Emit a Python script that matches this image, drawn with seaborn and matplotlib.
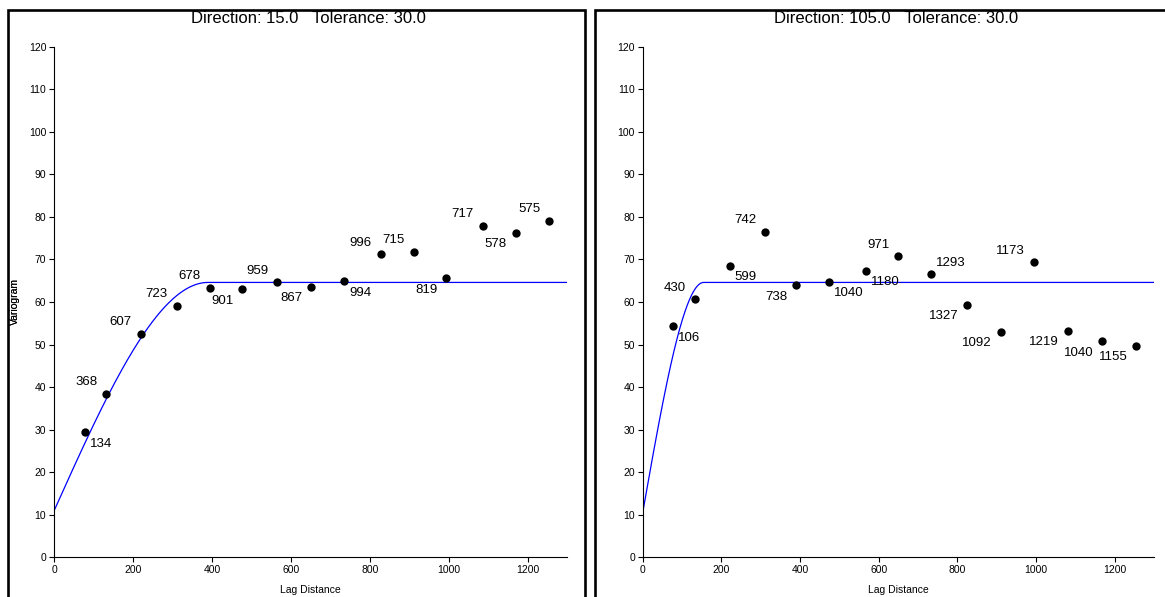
import numpy as np
import pandas as pd
import matplotlib
matplotlib.use("Agg")
import matplotlib.pyplot as plt
from matplotlib.patches import Rectangle
import seaborn as sns

# ---------------- data ----------------
lag_15 = [78, 132, 220, 311, 395, 477, 566, 651, 735, 827, 911, 994, 1086, 1170, 1254]
gamma_15 = [29.4, 38.4, 52.5, 59.1, 63.3, 63.0, 64.7, 63.6, 64.9, 71.2, 71.8, 65.6, 77.9, 76.3, 79.1]
pairs_15 = [134, 368, 607, 723, 678, 901, 959, 867, 994, 996, 715, 819, 717, 578, 575]

lag_105 = [78, 133, 221, 311, 390, 474, 568, 650, 733, 825, 910, 995, 1081, 1168, 1255]
gamma_105 = [54.3, 60.7, 68.5, 76.5, 63.9, 64.8, 67.3, 70.8, 66.5, 59.3, 53.0, 69.4, 53.2, 50.8, 49.7]
pairs_105 = [106, 430, 599, 742, 738, 1040, 1180, 971, 1293, 1327, 1092, 1173, 1219, 1040, 1155]

# spherical model parameters (nugget, sill, range, last model lag)
model_15 = dict(nugget=10.9, sill=64.6, rng=390, hmax=1300)
model_105 = dict(nugget=10.5, sill=64.6, rng=155, hmax=1300)

titles = ["Direction: 15.0   Tolerance: 30.0", "Direction: 105.0   Tolerance: 30.0"]
x_ticks = [0, 200, 400, 600, 800, 1000, 1200]
y_ticks = list(range(0, 121, 10))

# label placement codes: l/r = left/right of point, a/b = above/below
place_15 = ['rb', 'la', 'la', 'la', 'la', 'lb', 'la', 'lb', 'rb', 'la', 'la', 'lb', 'la', 'lb', 'la']
place_105 = ['rb', 'la', 'rb', 'la', 'lb', 'rb', 'rb', 'la', 'ra', 'lb', 'lb', 'la', 'lb', 'lb', 'lb']


def spherical(h, nugget, sill, rng):
    h = np.asarray(h, dtype=float)
    r = np.clip(h / rng, 0, 1)
    return nugget + (sill - nugget) * (1.5 * r - 0.5 * r ** 3)


# ---------------- style ----------------
sns.set_style("ticks")
plt.rcParams['font.family'] = ['Liberation Sans', 'DejaVu Sans']
plt.rcParams['text.color'] = 'black'
plt.rcParams['axes.labelcolor'] = 'black'

W, H = 1165, 597
fig = plt.figure(figsize=(W / 100, H / 100), dpi=100)

# panel frames (pixels)
for x0, x1 in [(8, 585), (595, 1175)]:
    fig.add_artist(Rectangle((x0 / W, -0.05), (x1 - x0) / W, (H - 10) / H + 0.05,
                             transform=fig.transFigure, fill=False,
                             edgecolor='black', linewidth=1.9, clip_on=False))

ax_left_px = [(54, 567.3), (642.7, 1154)]
ax_bottom_px, ax_top_px = 557.3, 46.7

panels = [
    (lag_15, gamma_15, pairs_15, model_15, place_15),
    (lag_105, gamma_105, pairs_105, model_105, place_105),
]

for i, ((xl, xr), (lags, gam, pairs, model, place)) in enumerate(zip(ax_left_px, panels)):
    ax = fig.add_axes([xl / W, (H - ax_bottom_px) / H, (xr - xl) / W, (ax_bottom_px - ax_top_px) / H])
    df = pd.DataFrame({"lag": lags, "gamma": gam, "pairs": pairs})
    h = np.linspace(0, model["hmax"], 800)
    dm = pd.DataFrame({"lag": h, "gamma": spherical(h, model["nugget"], model["sill"], model["rng"])})
    sns.lineplot(data=dm, x="lag", y="gamma", ax=ax, color="#0000ff", linewidth=0.9, zorder=2)
    sns.scatterplot(data=df, x="lag", y="gamma", ax=ax, color="black", s=36,
                    edgecolor="black", linewidth=0, zorder=3)
    for (_, row), p in zip(df.iterrows(), place):
        dx = -9 if p[0] == 'l' else 5
        dy = 11.5 if p[1] == 'a' else -11.5
        ax.annotate(str(int(row["pairs"])), (row["lag"], row["gamma"]),
                    xytext=(dx, dy), textcoords="offset pixels",
                    ha='right' if p[0] == 'l' else 'left', va='center',
                    fontsize=9.5, color='black')

    ax.set_xlim(0, 1300)
    ax.set_ylim(0, 120)
    ax.set_xticks(x_ticks)
    ax.set_yticks(y_ticks)
    ax.tick_params(axis='both', labelsize=7.5, length=3.6, width=0.8, color='black',
                   pad=2, labelcolor='black')
    sns.despine(ax=ax)
    for s in ['left', 'bottom']:
        ax.spines[s].set_linewidth(0.8)
        ax.spines[s].set_color('black')
    ax.set_xlabel("Lag Distance", fontsize=7.5)
    ax.set_ylabel("Variogram", fontsize=7.5)
    ax.xaxis.set_label_coords(0.5, -(585 - ax_bottom_px) / (ax_bottom_px - ax_top_px))
    ax.yaxis.set_label_coords(-(xl - 20) / (xr - xl), 0.5)
    ax.text(0.5 - 2 / (xr - xl), 1 + (ax_top_px - 19) / (ax_bottom_px - ax_top_px), titles[i],
            transform=ax.transAxes, ha='center', va='center', fontsize=12, color='black')

fig.savefig("out.png", dpi=100)
